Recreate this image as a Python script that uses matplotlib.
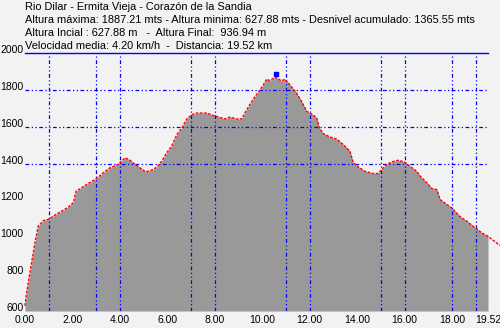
import numpy as np
import matplotlib
matplotlib.use("Agg")
import matplotlib.pyplot as plt

# profile (km, m)
dist = [0.00, 0.07, 0.21, 0.42, 0.56, 0.77, 0.98, 1.19, 1.55, 1.83, 2.04, 2.15, 2.32, 2.60,
        3.02, 3.30, 3.58, 3.93, 4.00, 4.22, 4.43, 4.64, 4.85, 5.09, 5.34, 5.55, 5.76, 5.97,
        6.18, 6.40, 6.61, 6.82, 7.03, 7.24, 7.66, 7.94, 8.43, 8.64, 8.93, 9.14, 9.27, 9.49,
        9.70, 9.91, 10.05, 10.19, 10.33, 10.54, 10.68, 10.82, 10.96, 11.17, 11.45, 11.66,
        11.88, 12.09, 12.30, 12.41, 12.58, 12.86, 13.14, 13.42, 13.70, 13.84, 14.05, 14.33,
        14.68, 14.89, 15.11, 15.25, 15.46, 15.74, 16.02, 16.23, 16.51, 16.72, 16.94, 17.15,
        17.36, 17.50, 17.78, 17.99, 18.34, 18.62, 18.97, 19.25, 19.52, 20.03]
elev = [628, 701, 809, 971, 1060, 1090, 1097, 1115, 1142, 1164, 1188, 1250, 1263, 1287,
        1319, 1350, 1377, 1395, 1404, 1431, 1418, 1395, 1377, 1355, 1364, 1380, 1412, 1458,
        1494, 1557, 1593, 1642, 1665, 1674, 1674, 1661, 1642, 1652, 1642, 1642, 1674, 1723,
        1764, 1800, 1827, 1858, 1850, 1869, 1859, 1849, 1858, 1827, 1782, 1737,
        1683, 1669, 1647, 1593, 1562, 1544, 1533, 1503, 1467, 1404, 1382, 1358,
        1346, 1346, 1377, 1395, 1409, 1418, 1407, 1385, 1358, 1323, 1296, 1265,
        1259, 1205, 1178, 1160, 1112, 1088, 1052, 1025, 1005, 955]

total_km = 19.52
max_km, max_alt = 10.57, 1887.21
marks_km = [1, 3, 4, 7, 8, 11, 12, 15, 16, 18, 19]
grid_alt = [1400, 1600, 1800]
x_ticks = [0, 2, 4, 6, 8, 10, 12, 14, 16, 18, 19.52]
y_ticks = [600, 800, 1000, 1200, 1400, 1600, 1800, 2000]

header = [
    "Rio Dilar - Ermita Vieja - Corazón de la Sandia",
    "Altura máxima: 1887.21 mts - Altura minima: 627.88 mts - Desnivel acumulado: 1365.55 mts",
    "Altura Incial : 627.88 m   -  Altura Final:  936.94 m",
    "Velocidad media: 4.20 km/h  -  Distancia: 19.52 km",
]

bg = "#f2f2f2"
plt.rcParams["font.family"] = ["Liberation Sans", "DejaVu Sans"]

fig = plt.figure(figsize=(5.0, 3.28), dpi=100, facecolor=bg)
ax = fig.add_axes([0.05, 0.0518, 0.926, 0.7866], facecolor=bg)

d = np.array(dist)
e = np.array(elev)
inside = d <= total_km
ax.fill_between(d[inside], 600, e[inside], color="#999999", lw=0, zorder=1)
ax.plot(d, e, color="red", lw=1.0, ls=(0, (2, 1)), zorder=3, clip_on=False)

grid_ls = (0, (3, 2, 1, 2, 1, 2))
for km in marks_km:
    ax.axvline(km, color="#0000ff", lw=0.9, ls=grid_ls, zorder=2)
for alt in grid_alt:
    ax.axhline(alt, color="#0000ff", lw=0.9, ls=grid_ls, zorder=2)
ax.axhline(2000, color="#0000ff", lw=1.0, zorder=2, clip_on=False)
ax.plot([max_km], [max_alt], marker="s", ms=2.5, color="#0000ff", zorder=4)

ax.set_xlim(0, total_km)
ax.set_ylim(600, 2000)
for s in ax.spines.values():
    s.set_visible(False)
ax.set_xticks(x_ticks)
ax.set_xticklabels([f"{v:.2f}" for v in x_ticks])
ax.set_yticks(y_ticks)
ax.set_yticklabels([str(v) for v in y_ticks])
ax.tick_params(length=0, labelsize=7.5, pad=1)
ax.tick_params(axis="x", pad=3)
for lbl in ax.get_yticklabels():
    lbl.set_va("baseline")

for i, line in enumerate(header):
    fig.text(0.05, 1 - (7 + 13 * i) / 328, line, fontsize=7.9, va="center", ha="left")

fig.savefig("out.png", dpi=100, facecolor=bg)
